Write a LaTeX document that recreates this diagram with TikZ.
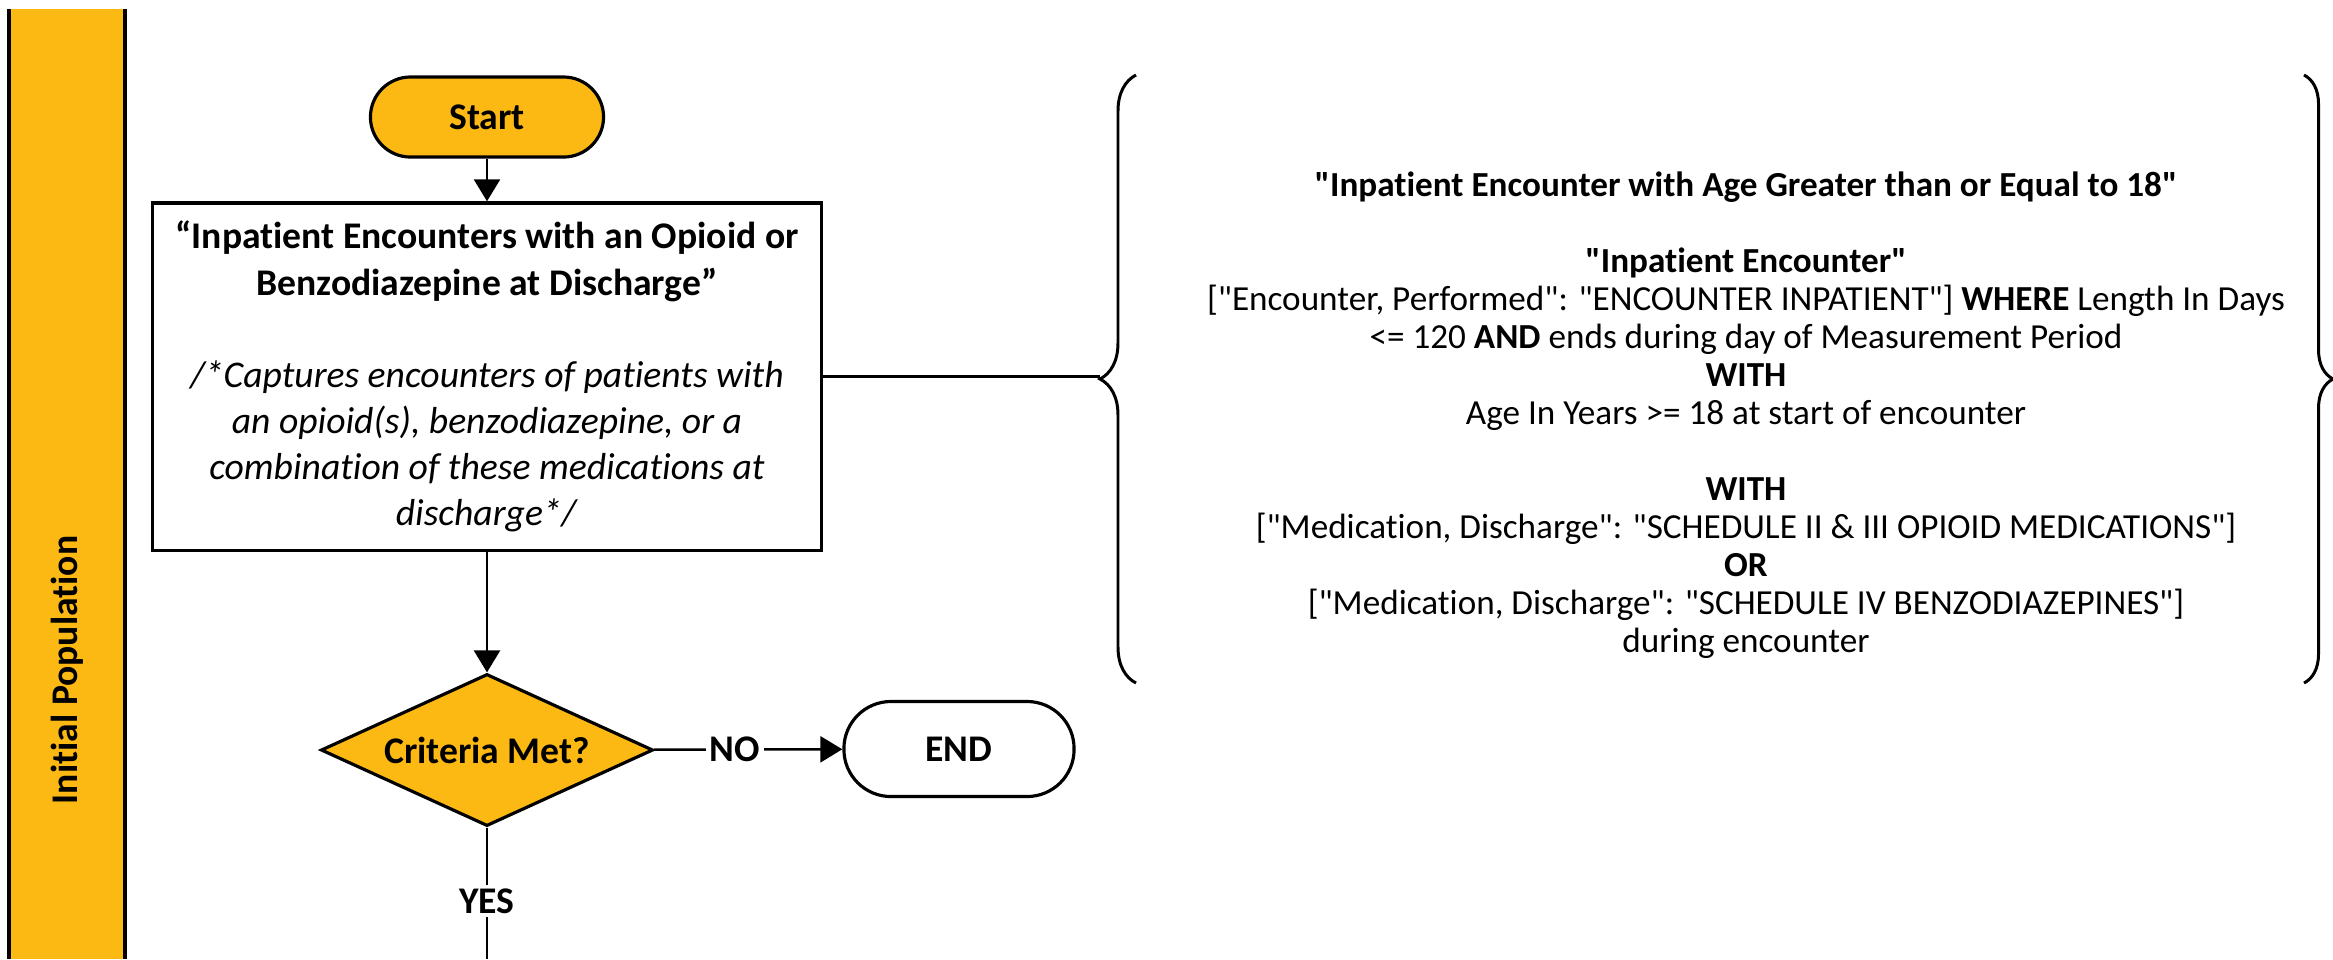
\documentclass[tikz,border=0pt]{standalone}
\usepackage{fontspec}
\setmainfont{Carlito}[Ligatures={TeXOff,CommonOff}]
\usepackage{tikz}
\usetikzlibrary{decorations.pathreplacing}
\usetikzlibrary{shapes.geometric}
\usetikzlibrary{arrows.meta}
\definecolor{gold}{RGB}{253,185,19}

\begin{document}
\begin{tikzpicture}
    [
    x=0.01cm, y=-0.01cm,
    >={Triangle[length=0.22cm,width=0.26cm]},
    term/.style = {draw,line width=0.9pt,rounded corners=0.4cm,minimum width=2.33cm,minimum height=0.8cm,font=\fontsize{10.7}{13.1}\selectfont\bfseries},
    box/.style = {draw,line width=0.9pt,minimum width=6.68cm,minimum height=3.47cm,align=center,font=\fontsize{10.7}{13.1}\selectfont},
    decision/.style = {diamond,draw,fill=gold,line width=0.9pt,aspect=2.2,inner sep=1pt,minimum width=3.32cm,minimum height=1.52cm,font=\fontsize{10.7}{13.1}\selectfont\bfseries},
    lbl/.style = {fill=white,inner sep=1pt,font=\fontsize{10.7}{13.1}\selectfont\bfseries},
    logic/.style = {align=center,inner sep=0pt,font=\fontsize{10}{10.8}\selectfont},
    curly/.style = {decorate,line width=0.85pt}
    ]
\useasboundingbox (0,0) rectangle (2333,959);

\fill[gold] (7,9) rectangle (127,959);
\draw[line width=1.1pt] (9,9) -- (9,959);
\draw[line width=1.1pt] (125,9) -- (125,959);
\node[rotate=90,font=\fontsize{10.7}{13.1}\selectfont\bfseries] (lane) at (67,670) {Initial Population};

\node[term,fill=gold] (start) at (487,117) {Start};
\node[box] (enc) at (487,376.5) {\textbf{“Inpatient Encounters with an Opioid or}\\
  \textbf{Benzodiazepine at Discharge”}\\[13.1pt]
  \textit{/*Captures encounters of patients with}\\
  \textit{an opioid(s), benzodiazepine, or a}\\
  \textit{combination of these medications at}\\
  \textit{discharge*/}};
\node[decision] (crit) at (487,750) {Criteria Met?};
\node[term,minimum width=2.3cm,minimum height=0.95cm,rounded corners=0.47cm] (finish) at (959,749) {END};

\node[logic] (logic) at (1746,415) {\textbf{"Inpatient Encounter with Age Greater than or Equal to 18"}\\[10.8pt]
  \textbf{"Inpatient Encounter"}\\
  {[}"Encounter, Performed": "ENCOUNTER INPATIENT"] \textbf{WHERE} Length In Days\\
  <= 120 \textbf{AND} ends during day of Measurement Period\\
  \textbf{WITH}\\
  Age In Years >= 18 at start of encounter\\[10.8pt]
  \textbf{WITH}\\
  {[}"Medication, Discharge": "SCHEDULE II \& III OPIOID MEDICATIONS"]\\
  \textbf{OR}\\
  {[}"Medication, Discharge": "SCHEDULE IV BENZODIAZEPINES"]\\
  during encounter};

\coordinate (tipL) at (1100,376.5);
\coordinate (down) at (487,959);

\draw[->,line width=0.7pt] (start) -- (enc);
\draw[->,line width=0.7pt] (enc) -- (crit);
\draw[->,line width=0.7pt] (crit) -- node[lbl,pos=0.43]{NO} (finish);
\draw[line width=0.7pt] (crit) -- node[lbl,pos=0.56]{YES} (down);
\draw[line width=0.7pt] (enc.east) -- (tipL);

\draw[curly,decoration={brace,amplitude=0.36cm}] (1136,683) -- (1136,75);
\draw[curly,decoration={brace,amplitude=0.29cm}] (2304,75) -- (2304,683);
\end{tikzpicture}
\end{document}
